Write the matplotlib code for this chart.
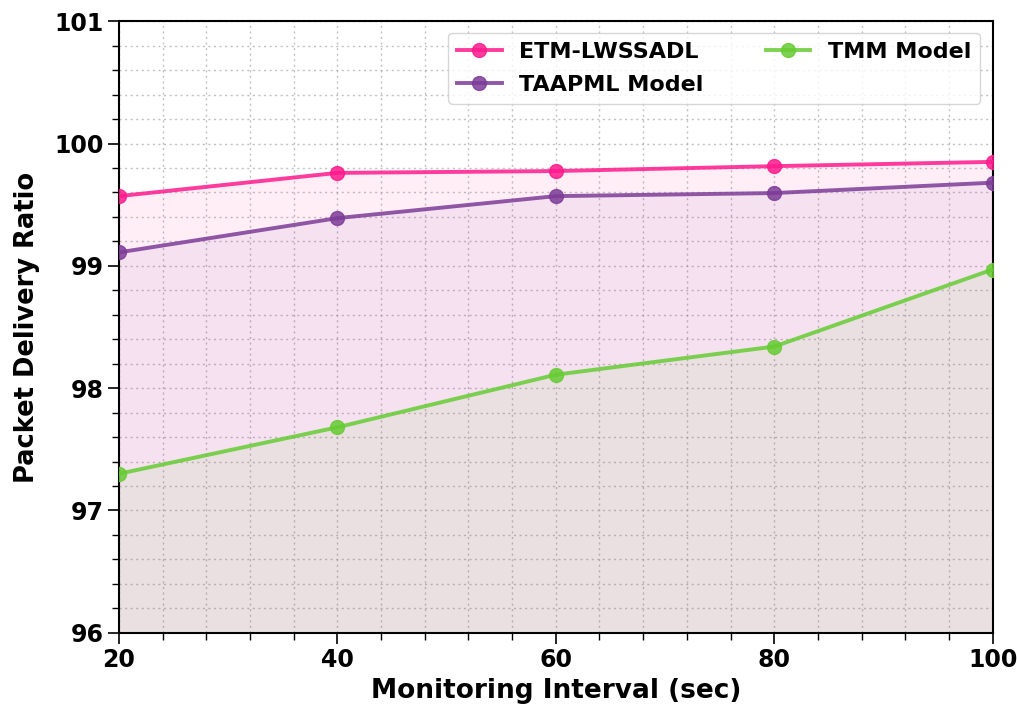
import matplotlib
matplotlib.use("Agg")
import matplotlib.pyplot as plt
from matplotlib.ticker import MultipleLocator

x = [20, 40, 60, 80, 100]
etm = [99.57, 99.76, 99.775, 99.815, 99.85]
taapml = [99.11, 99.39, 99.57, 99.595, 99.68]
tmm = [97.30, 97.68, 98.11, 98.34, 98.97]
labels = ["ETM-LWSSADL", "TAAPML Model", "TMM Model"]
colors = ["#FF1A8C", "#7D3C98", "#66CC33"]

fig = plt.figure(figsize=(10.17, 7.07), dpi=100)
ax = fig.add_axes([0.117, 0.105, 0.859, 0.865])

for y, lab, c in zip([etm, taapml, tmm], labels, colors):
    ax.plot(x, y, color=c, lw=2.8, marker="o", ms=10, label=lab, alpha=0.85, zorder=3)
    ax.fill_between(x, y, 96, color=c, alpha=0.07, lw=0, zorder=1)

ax.set_xlim(20, 100)
ax.set_ylim(96, 101)
ax.xaxis.set_major_locator(MultipleLocator(20))
ax.xaxis.set_minor_locator(MultipleLocator(4))
ax.yaxis.set_major_locator(MultipleLocator(1))
ax.yaxis.set_minor_locator(MultipleLocator(0.2))
ax.grid(which="both", linestyle=(0, (1.5, 2.5)), color="#a0a0a0", lw=1.0, alpha=0.65, zorder=0)
ax.set_axisbelow(True)
ax.tick_params(which="major", length=8, width=1.2, labelsize=17, pad=3)
ax.tick_params(which="minor", length=5, width=1)
for lbl in ax.get_xticklabels() + ax.get_yticklabels():
    lbl.set_fontweight("bold")
for s in ax.spines.values():
    s.set_linewidth(1.5)
ax.set_xlabel("Monitoring Interval (sec)", fontsize=19, fontweight="bold", labelpad=4)
ax.set_ylabel("Packet Delivery Ratio", fontsize=18.5, fontweight="bold", labelpad=10)
ax.legend(ncol=2, loc="upper right", prop={"weight": "bold", "size": 16},
          bbox_to_anchor=(0.986, 0.981), borderaxespad=0, columnspacing=2.8,
          labelspacing=0.6)

fig.savefig("out.png", dpi=100)
